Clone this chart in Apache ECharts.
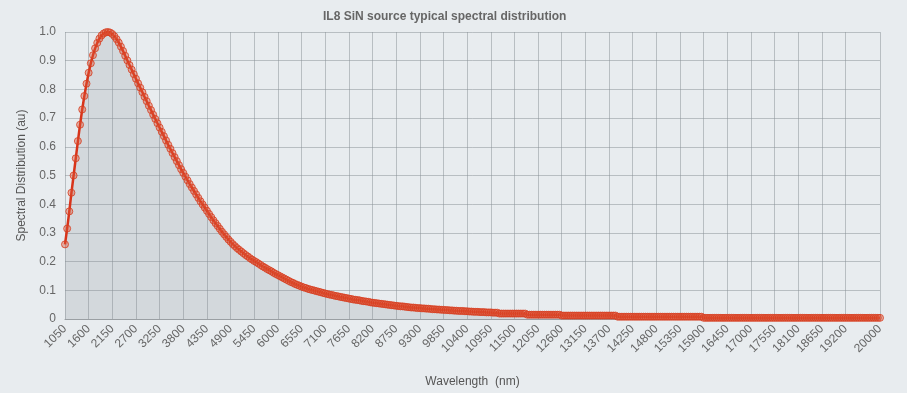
<!DOCTYPE html>
<html>
<head>
<meta charset="utf-8">
<script src="https://cdn.jsdelivr.net/npm/echarts@6/dist/echarts.min.js"></script>
<style>
html,body{margin:0;padding:0;background:#e8ecef;overflow:hidden;}
#chart{width:907px;height:393px;}
</style>
</head>
<body>
<div id="chart"></div>
<script>
// Wavelength categories (nm), 50 nm steps
const wlStart = 1050, wlEnd = 20000, wlStep = 50;
const wavelengths = [];
for (let w = wlStart; w <= wlEnd; w += wlStep) wavelengths.push(String(w));

// Spectral distribution values (au)
const spectrum = [
0.26,0.315,0.375,0.44,0.50,0.56,0.62,0.677,0.73,0.777,
0.82,0.858,0.891,0.919,0.943,0.962,0.977,0.988,0.995,0.999,
1.0,0.998,0.993,0.985,0.975,0.963,0.949,0.934,0.917,0.901,
0.885,0.869,0.853,0.837,0.821,0.806,0.790,0.774,0.759,0.743,
0.728,0.712,0.697,0.682,0.667,0.652,0.637,0.622,0.607,0.593,
0.578,0.564,0.550,0.536,0.522,0.509,0.496,0.483,0.470,0.458,
0.446,0.434,0.422,0.410,0.399,0.388,0.377,0.366,0.355,0.344,
0.334,0.324,0.314,0.304,0.295,0.286,0.277,0.269,0.261,0.254,
0.247,0.241,0.235,0.229,0.223,0.218,0.212,0.207,0.202,0.198,
0.193,0.188,0.183,0.179,0.174,0.170,0.166,0.161,0.157,0.153,
0.149,0.145,0.141,0.137,0.133,0.129,0.126,0.122,0.119,0.116,
0.113,0.110,0.108,0.105,0.103,0.101,0.099,0.097,0.095,0.093,
0.091,0.089,0.087,0.085,0.084,0.082,0.080,0.079,0.077,0.076,
0.074,0.073,0.071,0.070,0.068,0.067,0.066,0.065,0.063,0.062,
0.061,0.060,0.058,0.057,0.056,0.055,0.054,0.053,0.052,0.051,
0.050,0.049,0.048,0.047,0.046,0.045,0.044,0.044,0.043,0.042,
0.041,0.040,0.040,0.039,0.038,0.038,0.037,0.037,0.036,0.036,
0.035,0.034,0.034,0.033,0.033,0.032,0.032,0.031,0.031,0.030,
0.030,0.029,0.029,0.028,0.028,0.028,0.027,0.027,0.026,0.026,
0.025,0.025,0.025,0.024,0.024,0.024,0.023,0.023,0.023,0.022,
0.022,0.022,
0.019,0.019,0.019,0.019,0.019,0.019,0.019,0.019,0.019,0.019,0.019,0.019,0.019,
0.015,0.015,0.015,0.015,0.015,0.015,0.015,0.015,0.015,0.015,0.015,0.015,0.015,0.015,0.015,0.015,
0.012,0.012,0.012,0.012,0.012,0.012,0.012,0.012,0.012,0.012,0.012,0.012,0.012,
0.012,0.012,0.012,0.012,0.012,0.012,0.012,0.012,0.012,0.012,0.012,0.012,0.012,
0.008,0.008,0.008,0.008,0.008,0.008,0.008,0.008,0.008,0.008,
0.008,0.008,0.008,0.008,0.008,0.008,0.008,0.008,0.008,0.008,
0.008,0.008,0.008,0.008,0.008,0.008,0.008,0.008,0.008,0.008,
0.008,0.008,0.008,0.008,0.008,0.008,0.008,0.008,0.008,0.008,
0.004,0.004,0.004,0.004,0.004,0.004,0.004,0.004,0.004,0.004,
0.004,0.004,0.004,0.004,0.004,0.004,0.004,0.004,0.004,0.004,
0.004,0.004,0.004,0.004,0.004,0.004,0.004,0.004,0.004,0.004,
0.004,0.004,0.004,0.004,0.004,0.004,0.004,0.004,0.004,0.004,
0.004,0.004,0.004,0.004,0.004,0.004,0.004,0.004,0.004,0.004,
0.004,0.004,0.004,0.004,0.004,0.004,0.004,0.004,0.004,0.004,
0.004,0.004,0.004,0.004,0.004,0.004,0.004,0.004,0.004,0.004,
0.004,0.004,0.004,0.004,0.004,0.004,0.004,0.004,0.004,0.004,
0.004,0.004,0.004
];

// Axis tick labels
const xLabelEvery = 11;           // every 550 nm
const yTicks = [0,0.1,0.2,0.3,0.4,0.5,0.6,0.7,0.8,0.9,1.0];

const titleText = 'IL8 SiN source typical spectral distribution';
const xName = 'Wavelength  (nm)';
const yName = 'Spectral Distribution (au)';

const lastIdx = wavelengths.length - 1;
function showTick(i) {
  if (i === lastIdx) return true;
  if (i % xLabelEvery !== 0) return false;
  return (lastIdx - i) >= 8;
}

const FONT = 'Liberation Sans, Arial, Helvetica, sans-serif';
const chart = echarts.init(document.getElementById('chart'), null, {renderer: 'canvas', width: 907, height: 393});
chart.setOption({
  backgroundColor: '#e8ecef',
  animation: false,
  title: {
    text: titleText,
    left: 318,
    top: 6,
    textStyle: {fontSize: 12, fontWeight: 'bold', color: '#666', fontFamily: FONT}
  },
  grid: {left: 65, right: 27, top: 32, bottom: 74, containLabel: false},
  xAxis: {
    type: 'category',
    data: wavelengths,
    boundaryGap: false,
    name: xName,
    nameLocation: 'middle',
    nameGap: 57,
    nameTextStyle: {fontSize: 12, color: '#555', fontFamily: FONT},
    axisLine: {show: true, lineStyle: {color: '#9a9fa3', width: 1}},
    axisTick: {show: false},
    axisLabel: {
      interval: (i) => showTick(i),
      rotate: 45,
      margin: 8,
      fontSize: 12,
      color: '#666',
      fontFamily: FONT
    },
    splitLine: {
      show: true,
      interval: (i) => showTick(i),
      lineStyle: {color: 'rgba(135,143,150,0.5)', width: 1}
    }
  },
  yAxis: {
    type: 'value',
    min: 0,
    max: 1,
    interval: 0.1,
    name: yName,
    nameLocation: 'middle',
    nameGap: 37,
    nameTextStyle: {fontSize: 12, color: '#555', fontFamily: FONT},
    axisLine: {show: false},
    axisTick: {show: false},
    axisLabel: {
      fontSize: 12,
      color: '#666',
      margin: 9,
      fontFamily: FONT,
      formatter: (v) => {
        const t = yTicks.find(k => Math.abs(k - v) < 1e-9);
        const val = t === undefined ? v : t;
        return val === 0 ? '0' : val.toFixed(1);
      }
    },
    splitLine: {show: true, lineStyle: {color: 'rgba(135,143,150,0.5)', width: 1}}
  },
  series: [{
    type: 'line',
    data: spectrum,
    showSymbol: true,
    showAllSymbol: true,
    symbol: 'circle',
    symbolSize: 7,
    itemStyle: {
      color: 'rgba(222,85,55,0.4)',
      borderColor: 'rgba(215,60,30,0.8)',
      borderWidth: 1
    },
    lineStyle: {color: '#d8341a', width: 2.5},
    areaStyle: {color: 'rgba(130,138,145,0.28)'}
  }]
});
</script>
</body>
</html>
